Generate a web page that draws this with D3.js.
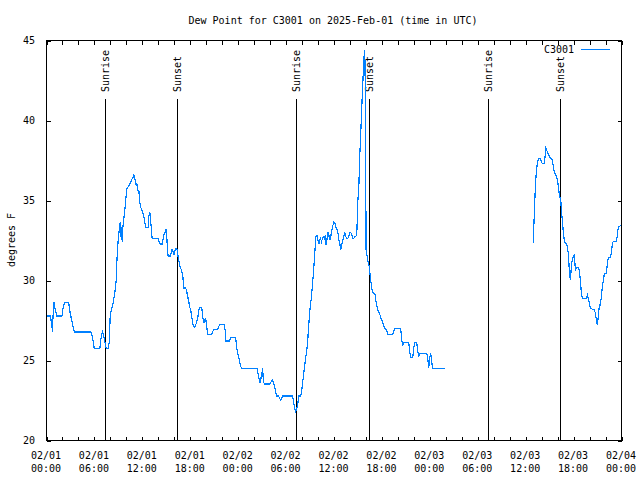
<!DOCTYPE html>
<html>
<head>
<meta charset="utf-8">
<script src="https://cdn.jsdelivr.net/npm/d3@7"></script>
<style>
  html, body { margin: 0; padding: 0; background: #fff; }
  svg { display: block; }
  text { font-family: "DejaVu Sans Mono", monospace; font-size: 10px; fill: #000; }
</style>
</head>
<body>
<svg id="chart" width="640" height="480"></svg>
<script>
// ---- data (hours after 2025-02-01 00:00 UTC, dew point in °F) ----
const title = "Dew Point for C3001 on 2025-Feb-01 (time in UTC)";
const yLabel = "degrees F";
const seriesName = "C3001";
const yTicks = [20, 25, 30, 35, 40, 45];

const hours1 = [0.1,0.58,0.63,0.75,0.79,0.92,1.0,1.125,1.25,1.33,2.0,2.125,2.33,2.83,2.92,3.04,3.17,3.29,3.42,3.54,5.625,5.79,5.92,6.04,6.75,6.83,6.96,7.08,7.2,7.33,7.54,7.79,7.92,8.04,8.17,8.29,8.42,8.54,8.67,8.79,
  8.83,8.96,9.08,9.21,9.29,9.375,9.46,9.54,9.625,9.75,9.875,10.0,10.125,10.25,10.375,10.5,10.625,10.75,10.875,11.0,11.125,11.25,11.375,11.5,11.625,11.71,11.83,11.96,12.08,12.21,12.33,12.46,12.79,12.875,13.0,13.08,13.21,13.29,14.04,14.17,14.29,14.54,14.67,14.79,14.92,15.04,15.125,15.21,15.29,15.54,15.67,15.79,15.92,16.04,16.17,16.29,16.42,16.54,16.67,16.79,16.92,
  17.125,17.25,17.5,17.625,17.75,17.875,18.0,18.125,18.25,18.375,18.5,18.625,18.75,18.875,19.0,19.125,19.25,19.5,19.625,19.75,19.875,20.0,20.125,20.25,20.75,20.875,21.0,21.5,21.625,21.75,22.29,22.42,22.54,23.0,23.125,23.75,23.875,24.0,24.125,24.25,24.375,24.5,26.42,26.54,26.67,26.79,26.92,27.04,27.125,27.21,27.33,28.0,28.125,28.25,28.375,28.5,28.625,28.75,28.875,29.125,29.25,29.375,29.5,29.625,30.875,31.0,31.125,31.25,31.42,31.54,31.67,31.875,32.0,32.125,32.25,32.375,32.5,32.625,32.75,32.875,33.0,33.25,33.5,33.67,33.79,
  33.92,34.04,34.17,34.25,34.375,34.5,34.625,34.75,34.875,34.96,35.08,35.17,35.29,35.42,35.54,35.67,35.79,35.92,36.04,36.17,36.29,36.42,36.54,36.67,36.79,36.92,37.04,37.17,37.29,37.42,37.54,37.67,37.79,37.92,38.04,38.17,38.29,38.42,38.54,38.67,38.79,38.92,39.04,39.17,39.29,39.42,39.54,39.67,39.79,39.92,40.0,40.08,40.2,40.375,
  40.5,40.58,40.71,40.83,40.96,41.2,41.33,41.46,41.58,41.71,41.83,41.96,42.08,42.2,42.33,42.46,42.58,42.71,42.83,43.42,43.54,43.67,44.42,44.54,44.67,44.79,45.42,45.54,45.67,45.92,46.04,46.17,46.42,46.54,46.67,46.75,47.67,47.79,47.92,48.04,48.17,48.29,48.42,49.96];
const dew1 = [27.75,27.75,27.5,27.1,26.75,28.1,28.6,28.2,28.0,27.75,27.75,28.2,28.6,28.6,28.3,27.9,27.6,27.3,27.0,26.75,26.75,26.5,26.1,25.73,25.73,26.2,26.56,26.75,26.56,26.25,25.73,25.73,26.1,27.8,28.1,28.3,28.6,29.0,29.4,30.0,
  30.7,32.0,32.7,33.3,33.6,32.7,33.3,32.4,33.3,33.85,34.4,35.1,35.7,35.8,35.9,36.0,36.1,36.3,36.35,36.56,36.35,36.0,36.0,35.6,35.6,35.0,34.6,34.4,34.27,34.06,33.8,33.3,33.3,33.96,34.27,33.85,33.1,32.6,32.6,32.4,32.25,32.25,32.6,32.9,33.0,33.17,32.7,31.9,31.5,31.5,31.67,31.9,31.75,31.6,31.9,32.0,31.9,31.46,31.15,30.8,30.67,
  30.3,29.5,29.5,29.27,28.96,28.65,28.3,28.1,27.7,27.3,27.08,27.05,27.2,27.4,27.6,28.1,28.3,28.3,27.7,27.3,27.5,27.6,27.08,26.6,26.6,26.77,26.9,26.9,27.08,27.2,27.2,26.9,26.19,26.19,26.4,26.4,25.8,25.4,25.2,24.9,24.6,24.48,24.48,24.17,23.86,23.54,23.86,24.17,24.48,23.75,23.5,23.5,23.56,23.7,23.75,23.56,23.38,23.02,22.75,22.75,22.6,22.5,22.6,22.75,22.75,22.4,21.98,21.77,21.98,22.3,22.75,22.75,23.02,23.54,24.06,24.6,25.1,25.5,26.06,27.0,27.9,29.0,30.5,31.8,32.7,
  32.8,32.5,32.25,32.5,32.6,32.4,32.6,32.7,32.6,32.8,32.19,32.5,33.02,32.8,32.5,32.75,33.1,33.4,33.6,33.55,33.3,33.2,33.0,32.5,32.25,31.9,32.2,32.5,32.75,32.96,32.7,32.6,32.6,32.75,32.96,32.96,32.8,32.6,32.6,32.7,32.7,32.9,34.9,35.8,37.8,39.3,40.8,42.3,43.75,44.4,41.0,31.9,31.5,31.0,
  30.83,30.3,29.8,29.4,29.2,29.1,28.65,28.3,28.1,27.96,27.8,27.6,27.46,27.3,27.1,26.98,26.9,26.77,26.6,26.6,26.77,26.96,26.96,26.25,25.9,26.1,26.1,25.5,25.17,25.17,25.7,26.1,26.1,25.6,25.17,25.4,25.4,25.17,24.48,25.17,25.4,24.9,24.48,24.48];

const hours2 = [61.04,61.06,61.17,61.29,61.42,61.54,61.67,61.875,62.0,62.125,62.375,62.5,62.58,62.71,62.83,62.96,63.08,63.21,63.33,63.46,63.58,63.71,63.83,63.96,64.08,64.21,64.33,64.46,64.54,64.67,64.79,64.92,65.04,65.17,65.29,65.42,65.54,65.67,65.79,65.92,66.04,66.17,66.29,66.42,66.67,66.79,66.92,67.04,67.17,67.67,67.79,67.92,68.04,68.17,68.67,68.79,68.92,69.04,69.17,69.29,69.42,69.54,69.67,69.79,69.92,70.17,70.29,70.42,70.67,70.79,70.92,71.04,71.42,71.54,71.67,72.0];
const dew2 = [32.33,33.0,34.5,35.94,36.9,37.33,37.6,37.6,37.46,37.3,37.3,37.75,38.23,38.1,37.96,37.8,37.67,37.6,37.6,37.3,36.9,36.7,36.56,36.4,36.15,35.6,35.2,35.0,34.27,33.65,32.9,32.4,32.33,32.25,32.08,31.56,30.5,30.0,30.9,31.35,31.46,31.56,30.6,30.8,30.8,30.6,29.9,29.2,28.85,28.85,29.06,28.85,28.58,28.23,28.125,27.92,27.5,27.2,27.8,28.44,28.44,28.96,29.6,30.0,30.4,30.4,31.04,31.4,31.4,31.67,32.3,32.4,32.4,32.8,33.33,33.4];

const sunEvents = ["Sunrise", "Sunset", "Sunrise", "Sunset", "Sunrise", "Sunset"];
const sunHours = [7.38, 16.42, 31.33, 40.43, 55.3, 64.42];

// ---- layout ----
const svg = d3.select("#chart");
const base = Date.UTC(2025, 1, 1, 0, 0);
const toDate = h => new Date(base + h * 3600e3);
const L = 46, R = 621, T = 40, B = 440;

const x = d3.scaleUtc().domain([toDate(0), toDate(72)]).range([L, R]);
const y = d3.scaleLinear().domain([20, 45]).range([B, T]);

const minorTicks = d3.range(0, 73, 2).map(toDate);
const majorTicks = d3.range(0, 73, 6).map(toDate);

// axes (ticks inward)
const gb = svg.append("g").attr("transform", `translate(0.5,${B + 0.5})`)
  .call(d3.axisBottom(x).tickValues(minorTicks).tickSizeInner(-4).tickSizeOuter(0).tickFormat(""));
const gt = svg.append("g").attr("transform", `translate(0.5,${T + 0.5})`)
  .call(d3.axisTop(x).tickValues(minorTicks).tickSizeInner(-4).tickSizeOuter(0).tickFormat(""));
const gl = svg.append("g").attr("transform", `translate(${L + 0.5},0.5)`)
  .call(d3.axisLeft(y).tickValues(yTicks).tickSizeInner(-4).tickSizeOuter(0).tickFormat(""));
const gr = svg.append("g").attr("transform", `translate(${R + 0.5},0.5)`)
  .call(d3.axisRight(y).tickValues(yTicks).tickSizeInner(-4).tickSizeOuter(0).tickFormat(""));
[gb, gt, gl, gr].forEach(g => {
  g.selectAll("path.domain").remove();
  g.selectAll("line").attr("stroke", "#000").attr("shape-rendering", "crispEdges");
});

// frame
svg.append("rect").attr("x", L + 0.5).attr("y", T + 0.5)
  .attr("width", R - L).attr("height", B - T)
  .attr("fill", "none").attr("stroke", "#000").attr("shape-rendering", "crispEdges");

// y tick labels
svg.append("g").selectAll("text").data(yTicks).join("text")
  .attr("x", 35).attr("y", d => y(d) + 4).attr("text-anchor", "end").text(d => d);

// x tick labels (two lines)
const fmtD = d3.utcFormat("%m/%d"), fmtT = d3.utcFormat("%H:%M");
const xl = svg.append("g").selectAll("text").data(majorTicks).join("text")
  .attr("text-anchor", "middle");
xl.append("tspan").attr("x", d => x(d)).attr("y", 459).text(d => fmtD(d));
xl.append("tspan").attr("x", d => x(d)).attr("y", 472).text(d => fmtT(d));

// title & y label
svg.append("text").attr("x", 333).attr("y", 24).attr("text-anchor", "middle").text(title);
svg.append("text").attr("transform", "translate(15,240) rotate(-90)")
  .attr("text-anchor", "middle").text(yLabel);

// sunrise / sunset markers
const sg = svg.append("g").selectAll("g").data(sunHours.map((h, i) => ({h, label: sunEvents[i]}))).join("g");
sg.append("line")
  .attr("x1", d => Math.round(x(toDate(d.h))) + 0.5).attr("x2", d => Math.round(x(toDate(d.h))) + 0.5)
  .attr("y1", 99).attr("y2", B).attr("stroke", "#000").attr("shape-rendering", "crispEdges");
sg.append("text")
  .attr("transform", d => `translate(${Math.round(x(toDate(d.h))) + 4},92) rotate(-90)`)
  .attr("text-anchor", "start").text(d => d.label);

// data lines
const line = d3.line().x(d => x(toDate(d[0]))).y(d => y(d[1]));
[[hours1, dew1], [hours2, dew2]].forEach(([hs, vs]) => {
  svg.append("path").datum(hs.map((h, i) => [h, vs[i]]))
    .attr("d", line).attr("fill", "none").attr("stroke", "#0080ff").attr("stroke-width", 1.2)
    .attr("shape-rendering", "crispEdges");
});

// legend
svg.append("text").attr("x", 574).attr("y", 53).attr("text-anchor", "end").text(seriesName);
svg.append("line").attr("x1", 581).attr("x2", 610).attr("y1", 49.5).attr("y2", 49.5)
  .attr("stroke", "#0080ff").attr("shape-rendering", "crispEdges");
</script>
</body>
</html>
